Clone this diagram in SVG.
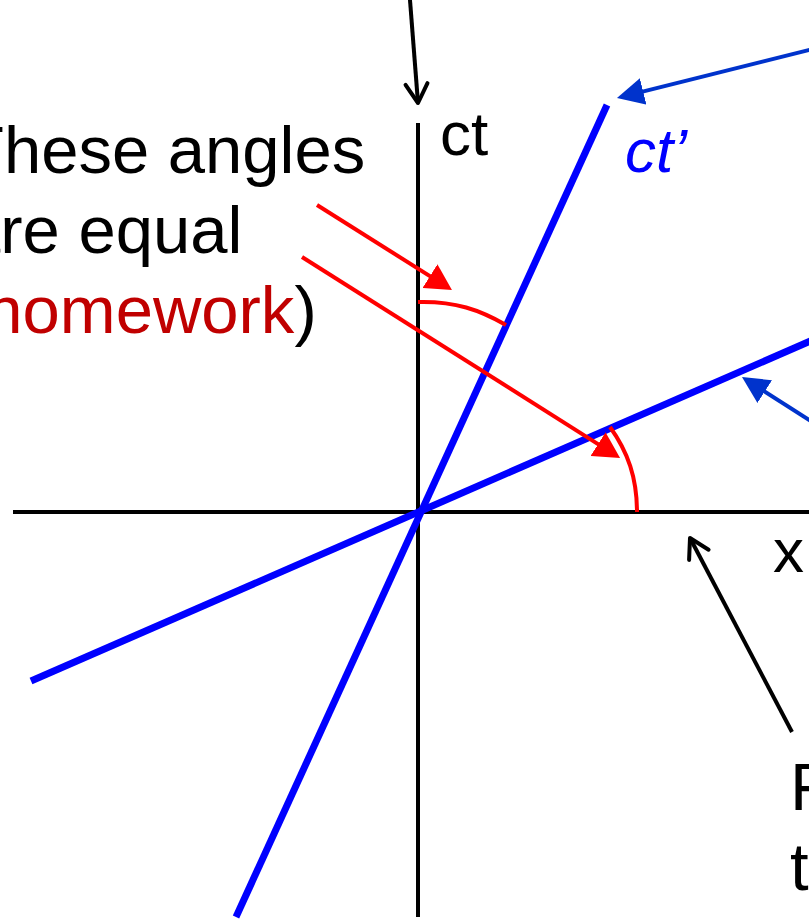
<svg xmlns="http://www.w3.org/2000/svg" width="809" height="920" viewBox="0 0 809 920">
  <style>
    .txt { font-family: "Liberation Sans", Arial, sans-serif; fill: #000; }
    .axis { stroke: #000; stroke-width: 4; fill: none; }
    .prime { stroke: #0000ff; stroke-width: 7; fill: none; }
    .red { stroke: #ff0000; stroke-width: 4; fill: none; }
    .blk { stroke: #000; stroke-width: 4; fill: none; }
    .blu { stroke: #0033cc; stroke-width: 4; fill: none; }
  </style>
  <defs>
    <marker id="openBlack" markerUnits="userSpaceOnUse" viewBox="-4 -16 32 32" markerWidth="32" markerHeight="32" refX="20" refY="0" orient="auto" overflow="visible">
      <path d="M1,-11 L20,0 L1,11" fill="none" stroke="#000" stroke-width="4" stroke-linecap="round" stroke-linejoin="round"/>
    </marker>
    <marker id="redHead" markerUnits="userSpaceOnUse" viewBox="0 -14 28 28" markerWidth="28" markerHeight="28" refX="14" refY="0" orient="auto">
      <path d="M0,-14 L26,0 L0,14 z" fill="#ff0000"/>
    </marker>
    <marker id="blueHead" markerUnits="userSpaceOnUse" viewBox="0 -14 28 28" markerWidth="28" markerHeight="28" refX="15" refY="0" orient="auto">
      <path d="M0,-13.5 L27,0 L0,13.5 z" fill="#0033cc"/>
    </marker>
  </defs>

  <rect width="809" height="920" fill="#fff"/>

  <g id="axes">
    <line class="axis" x1="418" y1="123" x2="418" y2="917"/>
    <line class="axis" x1="13" y1="512" x2="812" y2="512"/>
  </g>

  <g id="primed-axes">
    <line class="prime" x1="236" y1="917" x2="607" y2="105"/>
    <line class="prime" x1="31" y1="681" x2="815" y2="339"/>
  </g>

  <g id="angle-arcs">
    <path class="red" d="M418,302 C455,301 480,310 506,325"/>
    <path class="red" d="M610,427 C628,452 637,478 637,512"/>
  </g>

  <g id="connectors">
    <line class="red" x1="317" y1="205" x2="441.8" y2="283.6" marker-end="url(#redHead)"/>
    <line class="red" x1="302" y1="257" x2="609.9" y2="451.6" marker-end="url(#redHead)"/>
    <line class="blu" x1="815" y1="48.5" x2="628.6" y2="95.1" marker-end="url(#blueHead)"/>
    <line class="blu" x1="815" y1="423.8" x2="752.1" y2="383.5" marker-end="url(#blueHead)"/>
    <line class="blk" x1="409.6" y1="-5" x2="418" y2="103" marker-end="url(#openBlack)"/>
    <line class="blk" x1="792" y1="732" x2="690" y2="538" marker-end="url(#openBlack)"/>
  </g>

  <g id="label-angles">
    <text class="txt" x="-37" y="173" font-size="67">These angles</text>
    <text class="txt" x="-37" y="253" font-size="67">are equal</text>
    <text class="txt" x="-37" y="333" font-size="67">(<tspan fill="#c00000">homework</tspan>)</text>
  </g>

  <g id="label-ct">
    <text class="txt" x="440" y="155" font-size="62">ct</text>
  </g>

  <g id="label-ctprime">
    <text class="txt" x="625" y="172" font-size="62" font-style="italic" style="fill:#0000ff">ct’</text>
  </g>

  <g id="label-x">
    <text class="txt" x="773" y="572" font-size="62">x</text>
  </g>

  <g id="label-frame">
    <text class="txt" x="790" y="810" font-size="67">F</text>
    <text class="txt" x="790" y="890" font-size="67">t</text>
  </g>
</svg>
